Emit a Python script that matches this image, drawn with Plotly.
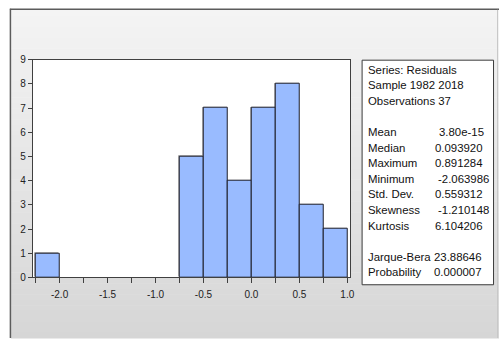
import plotly.graph_objects as go

# Histogram of residuals: bin left edges (width 0.25) and counts
bin_left = [-2.25, -2.00, -1.75, -1.50, -1.25, -1.00, -0.75, -0.50, -0.25, 0.00, 0.25, 0.50, 0.75]
counts = [1, 0, 0, 0, 0, 0, 5, 7, 4, 7, 8, 3, 2]
bin_width = 0.25

# Axis ticks
x_tickvals = [-2.25, -2.0, -1.75, -1.5, -1.25, -1.0, -0.75, -0.5, -0.25, 0.0, 0.25, 0.5, 0.75, 1.0]
x_ticktext = ["", "-2.0", "", "-1.5", "", "-1.0", "", "-0.5", "", "0.0", "", "0.5", "", "1.0"]
y_tickvals = [0, 1, 2, 3, 4, 5, 6, 7, 8, 9]

# Descriptive statistics panel
header_lines = ["Series: Residuals", "Sample 1982 2018", "Observations 37"]
stat_names = ["Mean", "Median", "Maximum", "Minimum", "Std. Dev.", "Skewness", "Kurtosis"]
stat_values = ["3.80e-15", "0.093920", "0.891284", "-2.063986", "0.559312", "-1.210148", "6.104206"]
test_names = ["Jarque-Bera", "Probability"]
test_values = ["23.88646", "0.000007"]

W, H = 503, 344


def px(x):
    return x / W


def py(y):
    return 1 - y / H


FONT = "Liberation Sans, Arial, sans-serif"

xs = [b + bin_width / 2 for b, c in zip(bin_left, counts) if c > 0]
ys = [c for c in counts if c > 0]

fig = go.Figure()
# soft drop shadow behind the bars (shifted up-left)
fig.add_trace(go.Bar(
    x=xs, y=ys, width=bin_width, offset=-bin_width / 2 - 0.02, base=0.06,
    marker=dict(color="rgba(140,140,140,0.55)", line=dict(width=0)),
    hoverinfo="skip", showlegend=False,
))
fig.add_trace(go.Bar(
    x=xs, y=ys, width=bin_width, offset=-bin_width / 2,
    marker=dict(color="#99bbff", line=dict(color="#1e1e28", width=1)),
    hoverinfo="skip", showlegend=False,
))

shapes = []
# window panel with vertical grey gradient
top, bottom = 5, H
n = 60
c0, c1 = 0xf4, 0xd6
for i in range(n):
    y0 = top + (bottom - top) * i / n
    y1 = top + (bottom - top) * (i + 1) / n
    g = round(c0 + (c1 - c0) * i / (n - 1))
    col = f"rgb({g},{g},{g})"
    shapes.append(dict(type="rect", xref="paper", yref="paper",
                       x0=px(11), x1=px(W), y0=py(y1 + 0.5), y1=py(y0),
                       fillcolor=col, line=dict(width=0), layer="below"))
# panel borders
shapes.append(dict(type="line", xref="paper", yref="paper", x0=px(10.5), x1=px(10.5),
                   y0=py(H), y1=py(4), line=dict(color="#5c5c5c", width=1.5), layer="below"))
shapes.append(dict(type="line", xref="paper", yref="paper", x0=px(10), x1=px(W),
                   y0=py(4.5), y1=py(4.5), line=dict(color="#5c5c5c", width=1.5), layer="below"))
shapes.append(dict(type="line", xref="paper", yref="paper", x0=px(501.5), x1=px(501.5),
                   y0=py(H), y1=py(5), line=dict(color="#c8c8c8", width=1), layer="below"))
# white plotting area
shapes.append(dict(type="rect", xref="x domain", yref="y domain", x0=0, x1=1, y0=0, y1=1,
                   fillcolor="white", line=dict(width=0), layer="below"))
# statistics box
shapes.append(dict(type="rect", xref="paper", yref="paper",
                   x0=px(365), x1=px(497.5), y0=py(289), y1=py(57),
                   fillcolor="white", line=dict(color="#3a3a3a", width=1), layer="below"))

annotations = []
line_h = 16.08
y_first = 67


def add_text(txt, x, row, anchor="left"):
    annotations.append(dict(text=txt, xref="paper", yref="paper", x=px(x), y=py(y_first + row * line_h),
                            xanchor=anchor, yanchor="middle", showarrow=False,
                            font=dict(family=FONT, size=11.4, color="#111111")))


for i, t in enumerate(header_lines):
    add_text(t, 369, i)
value_x = [440, 436, 436, 439, 436, 439, 436]
for i, (nm, v) in enumerate(zip(stat_names, stat_values)):
    add_text(nm, 369, 4 + i)
    add_text(v, value_x[i], 4 + i)
for i, (nm, v) in enumerate(zip(test_names, test_values)):
    add_text(nm, 369, 12 + i)
    add_text(v, 435, 12 + i)

axis_common = dict(showline=True, mirror=True, linecolor="#404040", linewidth=1,
                   ticks="outside", tickcolor="#404040", showgrid=False, zeroline=False,
                   tickfont=dict(family=FONT, size=10, color="#222222"))

fig.update_layout(
    width=W, height=H,
    margin=dict(l=0, r=0, t=0, b=0),
    paper_bgcolor="white", plot_bgcolor="rgba(0,0,0,0)",
    bargap=0, barmode="overlay", showlegend=False,
    shapes=shapes, annotations=annotations,
    xaxis=dict(domain=[px(33), px(353)], range=[-2.28, 1.03],
               tickmode="array", tickvals=x_tickvals, ticktext=x_ticktext,
               ticklen=5, ticklabelstandoff=3, **axis_common),
    yaxis=dict(domain=[py(281.5), py(56.5)], range=[0, 9],
               tickmode="array", tickvals=y_tickvals, ticklen=4, **axis_common),
)

fig.write_html("out.html")
